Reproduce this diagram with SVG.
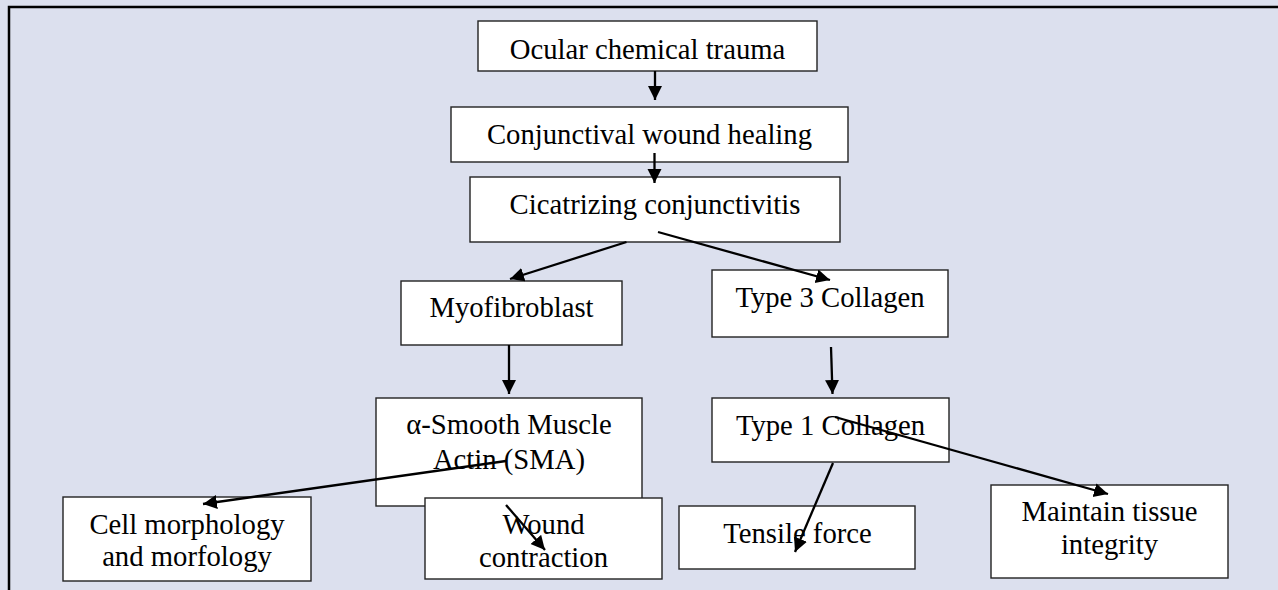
<svg xmlns="http://www.w3.org/2000/svg" width="1278" height="590" viewBox="0 0 1278 590">
<defs>
<marker id="ah" markerUnits="userSpaceOnUse" markerWidth="15" markerHeight="15" refX="14" refY="7" orient="auto">
<path d="M0,0 L14,7 L0,14 z" fill="#000"/>
</marker>
<style>
.box{fill:#fff;stroke:#222;stroke-width:1.4}
.t{font-family:"Liberation Serif","Times New Roman",serif;font-size:28.7px;fill:#000;text-anchor:middle}
.c{stroke:#000;stroke-width:2.3;fill:none;marker-end:url(#ah)}
</style>
</defs>
<rect x="0" y="0" width="1278" height="590" fill="#dce0ee"/>
<path d="M9,590 L9,7 L1278,7" fill="none" stroke="#000" stroke-width="2.5"/>
<g id="n1"><rect class="box" x="478" y="21" width="339" height="50"/><text class="t" x="647.5" y="58.5">Ocular chemical trauma</text></g>
<g id="n2"><rect class="box" x="451" y="107" width="397" height="55"/><text class="t" x="649.5" y="143.5">Conjunctival wound healing</text></g>
<g id="n3"><rect class="box" x="470" y="177" width="370" height="65"/><text class="t" x="655" y="213.5">Cicatrizing conjunctivitis</text></g>
<g id="n4"><rect class="box" x="401" y="281" width="221" height="64"/><text class="t" x="511.5" y="317">Myofibroblast</text></g>
<g id="n5"><rect class="box" x="712" y="270" width="236" height="67"/><text class="t" x="830" y="306.5">Type 3 Collagen</text></g>
<g id="n6"><rect class="box" x="376" y="398" width="266" height="108"/><text class="t" x="509" y="433.5">α-Smooth Muscle</text><text class="t" x="509" y="468.5">Actin (SMA)</text></g>
<g id="n7"><rect class="box" x="63" y="497" width="248" height="84"/><text class="t" x="187" y="533.5">Cell morphology</text><text class="t" x="187" y="566">and morfology</text></g>
<g id="n8"><rect class="box" x="425" y="498" width="237" height="81"/><text class="t" x="543.5" y="533.5">Wound</text><text class="t" x="543.5" y="567">contraction</text></g>
<g id="n9"><rect class="box" x="712" y="398" width="237" height="64"/><text class="t" x="830.5" y="435">Type 1 Collagen</text></g>
<g id="n10"><rect class="box" x="679" y="506" width="236" height="63"/><text class="t" x="797.5" y="542.5">Tensile force</text></g>
<g id="n11"><rect class="box" x="991" y="485" width="237" height="93"/><text class="t" x="1109.5" y="521">Maintain tissue</text><text class="t" x="1109.5" y="553.5">integrity</text></g>
<g id="connectors">
<line class="c" x1="655" y1="71" x2="655" y2="100"/>
<line class="c" x1="654.5" y1="153" x2="654.5" y2="183"/>
<line class="c" x1="626.5" y1="242" x2="510" y2="279"/>
<line class="c" x1="658" y1="232" x2="830" y2="280"/>
<line class="c" x1="509" y1="345" x2="509" y2="394"/>
<line class="c" x1="831" y1="347" x2="832.5" y2="394"/>
<line class="c" x1="506" y1="461" x2="203" y2="504"/>
<line class="c" x1="506" y1="505" x2="545" y2="550"/>
<line class="c" x1="833" y1="463" x2="795" y2="552"/>
<line class="c" x1="835" y1="417" x2="1108" y2="494"/>
</g>
</svg>
